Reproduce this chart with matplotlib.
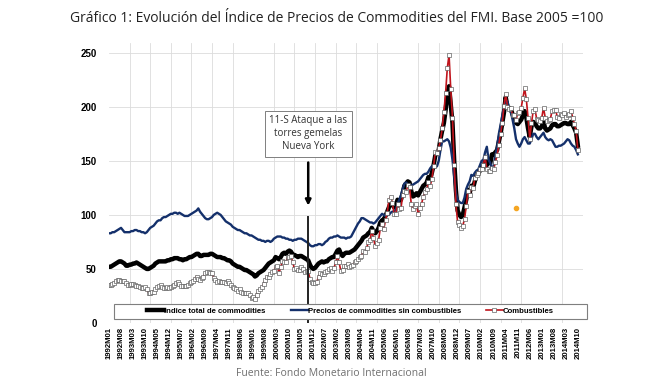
import matplotlib.pyplot as plt
from matplotlib.patches import Rectangle

# Indices FMI, base 2005 = 100, mensual 1992M01 - 2014M10
total = [
    52, 52, 53, 54, 55, 56, 57, 57, 56, 55, 53, 53,
    54, 54, 55, 55, 56, 55, 54, 53, 52, 51, 50, 50,
    51, 52, 53, 55, 56, 57, 57, 57, 57, 57, 58, 58,
    59, 59, 60, 60, 60, 59, 59, 58, 59, 59, 60, 61,
    61, 62, 63, 64, 64, 62, 62, 63, 63, 63, 63, 64,
    64, 63, 62, 61, 61, 61, 60, 60, 59, 58, 58, 57,
    55, 54, 53, 52, 52, 51, 50, 49, 49, 48, 47, 46,
    45, 43, 44, 46, 47, 48, 49, 51, 53, 55, 56, 57,
    58, 61, 60, 59, 61, 64, 65, 64, 66, 67, 66, 63,
    63, 62, 61, 62, 62, 61, 60, 59, 58, 54, 51, 50,
    51, 53, 55, 56, 57, 56, 57, 57, 59, 60, 61, 61,
    64, 67, 68, 64, 62, 64, 65, 65, 65, 66, 67, 68,
    70, 72, 74, 76, 79, 80, 81, 83, 84, 88, 85, 83,
    85, 88, 93, 95, 96, 99, 103, 107, 111, 110, 107, 108,
    114, 112, 114, 120, 127, 129, 131, 130, 122, 117, 118, 120,
    118, 121, 124, 127, 128, 130, 135, 133, 139, 146, 155, 157,
    160, 170, 178, 185, 197, 212, 219, 202, 185, 150, 123, 104,
    100, 98, 100, 107, 114, 123, 120, 127, 125, 131, 137, 138,
    141, 145, 144, 150, 146, 150, 148, 156, 156, 158, 160, 168,
    175, 185, 195, 209, 200, 199, 198, 193, 190, 185, 184, 186,
    188, 192, 196, 190, 180, 172, 182, 186, 185, 182, 180, 180,
    182, 186, 180, 178, 179, 180, 183, 184, 184, 182, 182, 183,
    184, 185, 185, 184, 184, 186, 183, 180, 176, 164,
]

sin_combustibles = [
    83, 83, 84, 84, 85, 86, 87, 88, 86, 84, 84, 84,
    84, 85, 85, 86, 86, 85, 85, 84, 84, 83, 84, 86,
    88, 89, 90, 92, 94, 95, 95, 97, 98, 98, 99, 100,
    101, 101, 102, 102, 101, 102, 101, 100, 99, 99, 99, 100,
    101, 102, 103, 104, 106, 103, 101, 99, 97, 96, 96, 97,
    98, 100, 101, 102, 101, 100, 98, 96, 94, 93, 92, 91,
    89, 88, 87, 86, 86, 85, 84, 83, 83, 82, 81, 81,
    80, 79, 78, 77, 77, 76, 76, 75, 76, 76, 75, 76,
    78, 79, 80, 80, 80, 79, 79, 78, 78, 77, 77, 76,
    77, 77, 78, 78, 78, 77, 76, 75, 74, 72, 71, 71,
    72, 72, 73, 73, 72, 73, 75, 76, 78, 79, 79, 80,
    80, 81, 80, 79, 79, 79, 78, 79, 79, 80, 83, 86,
    89, 92, 94, 97, 97, 96, 95, 94, 93, 93, 92, 93,
    95, 97, 99, 101, 100, 99, 100, 100, 102, 103, 103, 105,
    110, 114, 118, 124, 129, 130, 128, 128, 127, 128, 129, 130,
    131, 133, 135, 137, 138, 138, 140, 143, 145, 145, 144, 145,
    150, 160, 168, 168, 169, 170, 168, 162, 151, 135, 120, 114,
    112, 111, 111, 116, 124, 128, 131, 137, 136, 139, 141, 142,
    146, 150, 151, 158, 163, 151, 148, 141, 146, 155, 163, 175,
    183, 192, 200, 206, 205, 198, 195, 188, 180, 170, 166, 163,
    166, 170, 172, 169, 166, 166, 170, 175, 175, 172, 170, 172,
    174, 176, 172, 170, 169, 170, 169, 166, 163, 163, 164, 164,
    165, 166, 168, 170, 169, 166, 164, 163, 160, 156,
]

combustibles = [
    35, 35, 36, 37, 39, 40, 40, 39, 39, 39, 37, 35,
    35, 36, 36, 35, 34, 34, 33, 32, 32, 33, 31, 28,
    28, 29, 29, 31, 33, 34, 35, 33, 32, 32, 33, 32,
    33, 34, 35, 37, 38, 36, 34, 34, 34, 34, 35, 37,
    38, 39, 41, 43, 41, 40, 42, 43, 46, 47, 47, 46,
    46, 42, 40, 38, 39, 38, 38, 38, 37, 39, 37, 35,
    33, 32, 31, 30, 31, 29, 28, 28, 28, 28, 26, 23,
    24, 22, 26, 30, 31, 33, 36, 40, 43, 43, 45, 47,
    48, 52, 53, 46, 52, 57, 56, 56, 61, 61, 62, 56,
    50, 51, 49, 49, 52, 50, 47, 48, 48, 41, 38, 37,
    37, 38, 43, 46, 45, 45, 47, 48, 50, 51, 48, 51,
    56, 62, 56, 48, 49, 53, 53, 55, 52, 53, 54, 56,
    57, 59, 61, 62, 67, 66, 69, 75, 77, 85, 79, 71,
    74, 77, 88, 92, 87, 95, 102, 114, 117, 111, 101, 101,
    110, 105, 106, 118, 122, 121, 128, 126, 110, 105, 108, 110,
    101, 106, 110, 117, 121, 124, 130, 127, 133, 145, 158, 157,
    162, 169, 180, 195, 213, 236, 248, 216, 190, 146, 110, 93,
    91, 88, 90, 96, 108, 122, 118, 126, 125, 134, 137, 139,
    142, 142, 146, 154, 142, 141, 141, 143, 142, 149, 155, 165,
    175, 185, 201, 212, 200, 198, 199, 192, 192, 188, 194, 195,
    199, 208, 217, 207, 190, 170, 185, 196, 198, 189, 188, 187,
    190, 199, 190, 187, 188, 189, 196, 197, 197, 191, 190, 193,
    192, 194, 191, 192, 193, 196, 190, 184, 178, 160,
]

meses = list(range(len(total)))
etiquetas = ['%dM%02d' % (1992 + m // 12, m % 12 + 1) for m in meses]

punto_naranja = (237, 106)   # punto suelto en 2011M10
evento_mes = 116             # 2001M09

fig = plt.figure(figsize=(6.66, 3.87), dpi=100)
ax = fig.add_axes([109 / 666, 64 / 387, 474 / 666, 280 / 387])

ax.plot(meses, total, color='black', lw=3.2, label='Indice total de commodities', zorder=3)
ax.plot(meses, sin_combustibles, color='#14306b', lw=1.7,
        label='Precios de commodities sin combustibles', zorder=4)
ax.plot(meses, combustibles, color='#c0141c', lw=1.2, marker='s', ms=2.5,
        mfc='white', mec='#555555', mew=0.45, label='Combustibles', zorder=5)
ax.scatter([punto_naranja[0]], [punto_naranja[1]], s=9, color='#f5a623', zorder=6)

ax.set_xlim(0, 276)
ax.set_ylim(0, 259)
ax.set_yticks([0, 50, 100, 150, 200, 250])
ax.set_xticks(meses[::7])
ax.set_xticklabels(etiquetas[::7], rotation=90, fontsize=5.6, fontweight='bold',
                   family='Liberation Sans')
ax.set_xticks(range(0, 277, 12), minor=True)
for t in ax.get_yticklabels():
    t.set_fontsize(7)
    t.set_fontweight('bold')
    t.set_family('Liberation Sans')
ax.tick_params(axis='both', which='both', length=0)
ax.tick_params(axis='x', pad=3)
ax.tick_params(axis='y', pad=9)
ax.grid(axis='y', which='major', color='#dcdcdc', lw=0.6)
ax.grid(axis='x', which='minor', color='#dcdcdc', lw=0.6)
for s in ax.spines.values():
    s.set_visible(False)

# 11-S
ax.plot([evento_mes, evento_mes], [0, 98], color='#222222', lw=1.4, zorder=7)
ax.annotate('', xy=(evento_mes, 106), xytext=(evento_mes, 151),
            arrowprops=dict(arrowstyle='-|>', color='black', lw=1.8, mutation_scale=8))
ax.text(evento_mes, 175, '11-S Ataque a las\ntorres gemelas\nNueva York', ha='center', va='center',
        fontsize=7, color='#333333', linespacing=1.25, family='Open Sans',
        bbox=dict(boxstyle='square,pad=0.45', fc='white', ec='#7f7f7f', lw=0.7))

# leyenda
ax.add_patch(Rectangle((0.0105, 0.0143), 0.998, 0.054, transform=ax.transAxes,
                       fc='white', ec='#7f7f7f', lw=0.8, clip_on=False, zorder=8))
leg = ax.legend(loc='center', bbox_to_anchor=(0.5095, 0.0413), ncol=3, frameon=False,
                prop={'family': 'Liberation Sans', 'weight': 'bold', 'size': 5.6},
                handlelength=2.2, handletextpad=0.0, columnspacing=3.2, borderpad=0)
leg.set_zorder(9)

fig.text(0.505, 1 - 19 / 387, 'Gráfico 1: Evolución del Índice de Precios de Commodities del FMI. Base 2005 =100',
         ha='center', va='center', fontsize=10, color='#222222', family='Open Sans')
fig.text(0.498, 1 - 373 / 387, 'Fuente: Fondo Monetario Internacional', ha='center', va='center',
         fontsize=7.5, color='#6f6f6f', family='Open Sans')

fig.savefig('out.png', dpi=100)
